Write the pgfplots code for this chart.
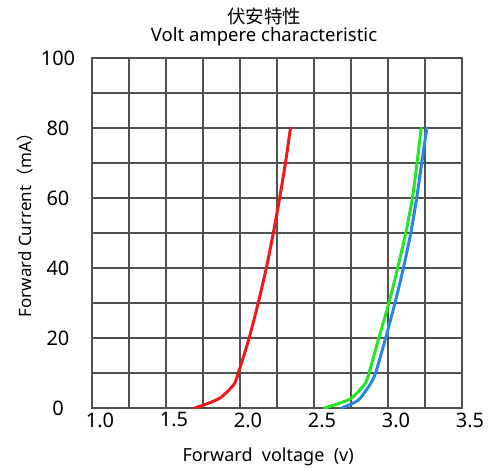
\documentclass[border=0pt]{standalone}
\usepackage{fontspec}
\setmainfont{Noto Sans}
\newfontfamily\cjk{Noto Sans CJK SC}
\usepackage{pgfplots}
\pgfplotsset{compat=1.18}
\definecolor{gridgray}{HTML}{505050}
\definecolor{ledred}{HTML}{F01818}
\definecolor{ledgreen}{HTML}{22E626}
\definecolor{ledblue}{HTML}{2A86E6}
\begin{document}
\begin{tikzpicture}
\path[use as bounding box] (-92bp,-67bp) rectangle (401bp,408bp);
\begin{axis}[
    at={(0,0)}, anchor=south west,
    scale only axis,
    width=370bp, height=350bp,
    xmin=1, xmax=3.5, ymin=0, ymax=100,
    xtick={1,1.25,1.5,1.75,2,2.25,2.5,2.75,3,3.25,3.5},
    xticklabels={1.0,,1.5,,2.0,,2.5,,3.0,,3.5},
    ytick={0,10,20,30,40,50,60,70,80,90,100},
    yticklabels={0,,20,,40,,60,,80,,100},
    major tick length=0pt,
    grid=major,
    grid style={gridgray, line width=2bp},
    axis line style={gridgray, line width=2bp},
    ticklabel style={font=\fontsize{20bp}{24bp}\selectfont},
    xticklabel style={xshift=8bp, yshift=-1bp},
    yticklabel style={anchor=center, xshift=-34bp},
    title={{\cjk 伏安特性}\\Volt ampere characteristic},
    title style={at={(axis description cs:0.465,1.016)}, anchor=south, align=center, inner sep=0pt,
      font=\fontsize{18.5bp}{18bp}\selectfont},
    xlabel={Forward\ \ voltage\ \ (v)},
    xlabel style={at={(axis description cs:0.476,-0.14)}, anchor=center, font=\fontsize{18bp}{20bp}\selectfont},
    ylabel={Forward Current{\cjk （}mA{\cjk ）}},
    ylabel style={at={(axis description cs:-0.181,0.534)}, anchor=center, font=\fontsize{17bp}{20bp}\selectfont},
]
\addplot[ledred, line width=3bp, line cap=round, smooth, tension=0.4] coordinates {
(1.693,0) (1.778,1.2) (1.870,3.0) (1.960,6.8) (1.994,10.7) (2.062,20)
(2.123,30) (2.178,40) (2.225,50) (2.268,60) (2.307,70) (2.341,80)
};
\addplot[ledblue, line width=3bp, line cap=round, smooth, tension=0.4] coordinates {
(2.685,0) (2.798,2.2) (2.877,6.6) (2.916,10) (2.984,20) (3.047,30)
(3.104,40) (3.154,50) (3.194,60) (3.228,70) (3.262,80)
};
\addplot[ledgreen, line width=3bp, line cap=round, smooth, tension=0.4] coordinates {
(2.571,0) (2.662,1.2) (2.753,2.8) (2.843,6.8) (2.872,10) (2.938,20)
(3.006,30) (3.065,40) (3.120,50) (3.165,60) (3.196,70) (3.224,80)
};
\end{axis}
\end{tikzpicture}
\end{document}
